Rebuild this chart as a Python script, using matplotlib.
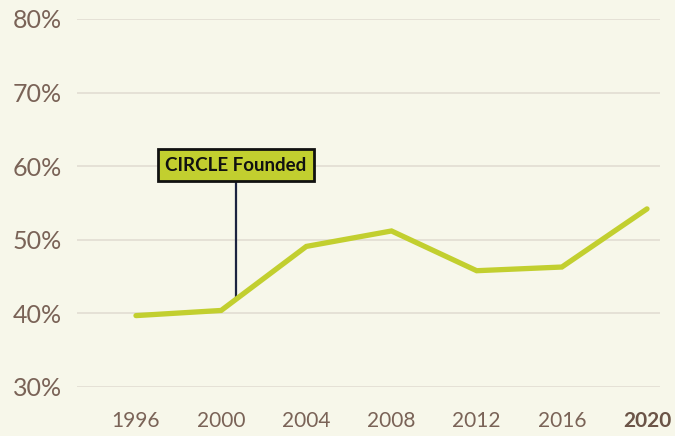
import matplotlib.pyplot as plt

# values
years = [1996, 2000, 2004, 2008, 2012, 2016, 2020]
turnout = [39.7, 40.4, 49.1, 51.2, 45.8, 46.3, 54.2]
y_ticks = [30, 40, 50, 60, 70, 80]
note_text = 'CIRCLE Founded'
note_year = 2000.7

bg = '#f7f7ea'
brown = '#7a6357'
lime = '#c2cf2f'

fig = plt.figure(figsize=(6.75, 4.36), dpi=100, facecolor=bg)
ax = fig.add_axes([77 / 675, 1 - 387 / 436, (660 - 77) / 675, (387 - 19) / 436])
ax.set_facecolor(bg)

ax.set_xlim(1993.23, 2020.61)
ax.set_ylim(30, 80)

for v in y_ticks:
    ax.axhline(v, color='#e2ddd2', lw=1.2, zorder=1)

ax.plot(years, turnout, color=lime, lw=3.8, solid_capstyle='round',
        solid_joinstyle='miter', zorder=3)

# annotation marker
ax.plot([note_year, note_year], [42.1, 58.0], color='#1c2440', lw=1.6, zorder=2)
ax.text(note_year, 60.15, note_text, ha='center', va='center',
        fontsize=13.5, fontweight='bold', family='Lato', color='#111111',
        bbox=dict(boxstyle='square,pad=0.4', fc=lime, ec='#111111', lw=2),
        zorder=4)

ax.set_yticks(y_ticks)
ax.set_yticklabels([f'{v}%' for v in y_ticks])
ax.set_xticks(years)
ax.set_xticklabels([str(y) for y in years])

ax.tick_params(axis='y', length=0, pad=11, labelsize=18, labelcolor=brown)
ax.tick_params(axis='x', length=0, pad=17, labelsize=15, labelcolor=brown)
for lab in ax.get_yticklabels() + ax.get_xticklabels():
    lab.set_family('Lato')
last = ax.get_xticklabels()[-1]
last.set_fontweight('bold')
last.set_color('#6b5447')

for s in ax.spines.values():
    s.set_visible(False)

fig.savefig('out.png', dpi=100, facecolor=bg)
